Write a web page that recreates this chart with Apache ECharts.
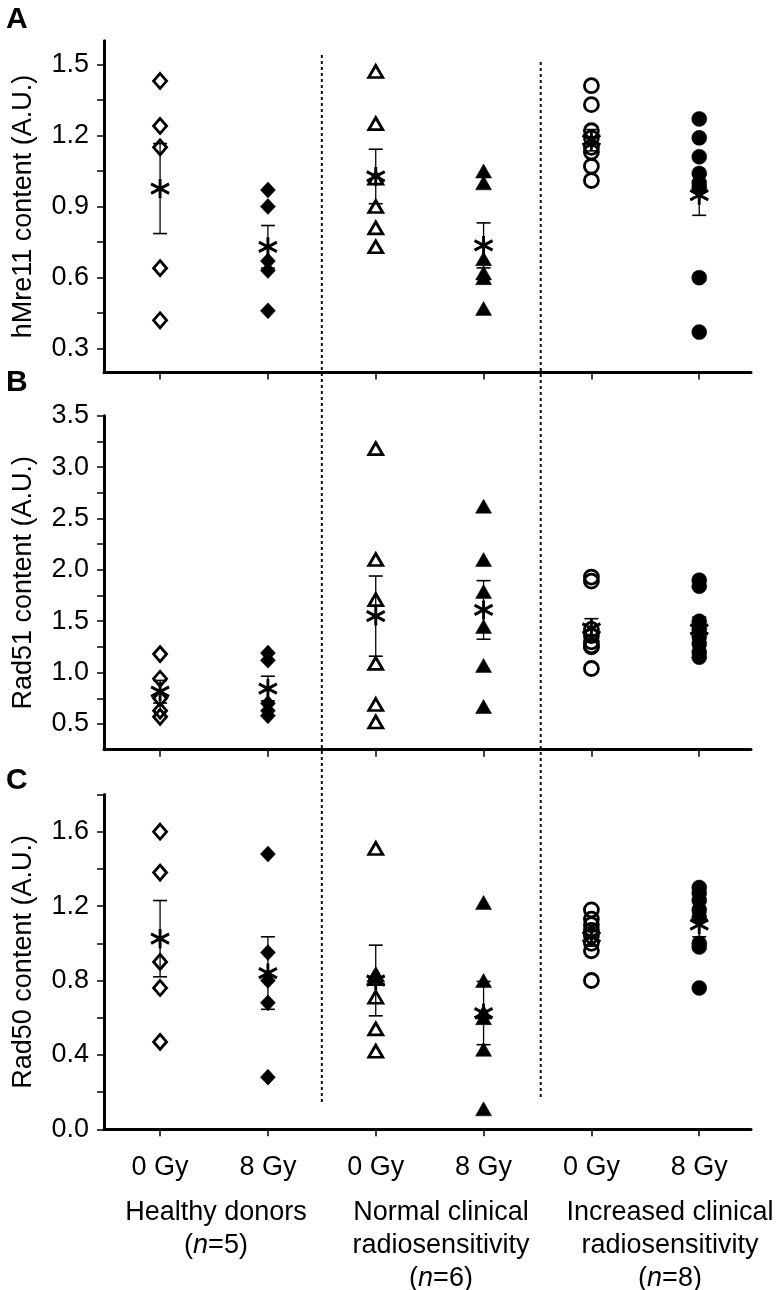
<!DOCTYPE html>
<html><head><meta charset="utf-8">
<style>html,body{margin:0;padding:0;background:#fff}#chart{width:779px;height:1290px}</style>
<script src="https://cdn.jsdelivr.net/npm/echarts@6.0.0/dist/echarts.min.js"></script>
</head><body><div id="chart"></div>
<script>
// ---------- DATA ----------
const doseLabels = ['0 Gy', '8 Gy', '0 Gy', '8 Gy', '0 Gy', '8 Gy'];
const groupNames = ['Healthy donors', 'Normal clinical\nradiosensitivity', 'Increased clinical\nradiosensitivity'];
const groupSizes = [5, 6, 8];

// Panel A: hMre11
const mre11Points = [
  [1.43, 1.24, 1.15, 0.64, 0.42],
  [0.97, 0.90, 0.67, 0.63, 0.46],
  [1.47, 1.25, 1.02, 0.90, 0.81, 0.73],
  [1.05, 1.00, 0.68, 0.62, 0.60, 0.47],
  [1.41, 1.33, 1.22, 1.19, 1.15, 1.13, 1.07, 1.01],
  [1.27, 1.19, 1.11, 1.04, 1.00, 0.98, 0.60, 0.37]
];
const mre11Mean = [0.976, 0.73, 1.027, 0.736, 1.18, 0.948];
const mre11Sem = [0.19, 0.09, 0.115, 0.095, 0.045, 0.085];
const mre11Ticks = [0.3, 0.6, 0.9, 1.2, 1.5];

// Panel B: Rad51
const rad51Points = [
  [1.18, 0.94, 0.75, 0.63, 0.57],
  [1.19, 1.12, 0.70, 0.63, 0.58],
  [3.18, 2.10, 1.71, 1.09, 0.69, 0.52],
  [2.62, 2.10, 1.79, 1.45, 1.07, 0.67],
  [1.93, 1.89, 1.42, 1.36, 1.30, 1.26, 1.25, 1.04],
  [1.90, 1.84, 1.50, 1.42, 1.35, 1.28, 1.20, 1.15]
];
const rad51Mean = [0.814, 0.845, 1.55, 1.61, 1.43, 1.42];
const rad51Sem = [0.11, 0.12, 0.39, 0.285, 0.095, 0.12];
const rad51Ticks = [0.5, 1.0, 1.5, 2.0, 2.5, 3.0, 3.5];

// Panel C: Rad50
const rad50Points = [
  [1.60, 1.38, 0.90, 0.76, 0.47],
  [1.48, 0.95, 0.80, 0.68, 0.28],
  [1.51, 0.83, 0.81, 0.71, 0.54, 0.42],
  [1.22, 0.80, 0.63, 0.60, 0.43, 0.11],
  [1.18, 1.13, 1.10, 1.07, 1.04, 1.00, 0.96, 0.80],
  [1.30, 1.27, 1.23, 1.18, 1.14, 1.00, 0.98, 0.76]
];
const rad50Mean = [1.025, 0.84, 0.80, 0.625, 1.035, 1.10];
const rad50Sem = [0.205, 0.195, 0.19, 0.17, 0.05, 0.065];
const rad50Ticks = [0.0, 0.4, 0.8, 1.2, 1.6];

// ---------- STYLE / LAYOUT ----------
const FONT = "'Liberation Sans', Arial, Helvetica, sans-serif";
const FS = 27;
const shapes = ['diamond', 'diamond', 'triangle', 'triangle', 'circle', 'circle'];
const filled = [false, true, false, true, false, true];
const symSizes = [[13, 15], [15, 16], [14, 12], [16, 14], [14, 14], [15, 15]];
const asterisk = 'path://M10 0 L10 20 M1.34 5 L18.66 15 M1.34 15 L18.66 5';
const dividerX = [1.5, 3.53];

const panels = [
  {letter: 'A', name: 'hMre11 content (A.U.)', pts: mre11Points, mean: mre11Mean, sem: mre11Sem, ticks: mre11Ticks, min: 0.2, max: 1.6, top: 40.7, height: 331.7, fmt: v => v.toFixed(1), lt: 5},
  {letter: 'B', name: 'Rad51 content (A.U.)', pts: rad51Points, mean: rad51Mean, sem: rad51Sem, ticks: rad51Ticks, min: 0.25, max: 3.5, top: 415.7, height: 334, fmt: v => v.toFixed(1), lt: 368},
  {letter: 'C', name: 'Rad50 content (A.U.)', pts: rad50Points, mean: rad50Mean, sem: rad50Sem, ticks: rad50Ticks, min: 0, max: 1.8, top: 794.5, height: 334.8, fmt: v => v.toFixed(1), lt: 766}
];

function minorTicks(t, max) {
  const out = t.slice();
  const step = t[1] - t[0];
  for (let i = 0; i < t.length - 1; i++) out.push(+((t[i] + t[i + 1]) / 2).toFixed(4));
  const ext = +(t[t.length - 1] + step / 2).toFixed(4);
  if (ext <= max + 1e-9) out.push(ext);
  return out.sort((a, b) => a - b);
}

const grid = [], xAxis = [], yAxis = [], series = [];
panels.forEach((p, gi) => {
  grid.push({left: 104, width: 647, top: p.top, height: p.height, containLabel: false});
  xAxis.push({
    type: 'value', gridIndex: gi, min: -0.52, max: 5.48,
    splitLine: {show: false},
    axisLine: {onZero: false, lineStyle: {color: '#000', width: 3}},
    axisTick: {customValues: [0, 1, 2, 3, 4, 5], length: 7, lineStyle: {color: '#000', width: 1.5}},
    axisLabel: gi === 2 ? {
      show: true, customValues: [0, 1, 2, 3, 4, 5], margin: 25,
      formatter: v => doseLabels[Math.round(v)], color: '#000', fontSize: FS, fontFamily: FONT
    } : {show: false}
  });
  yAxis.push({
    type: 'value', gridIndex: gi, min: p.min, max: p.max,
    name: p.name, nameLocation: 'middle', nameGap: 67,
    nameTextStyle: {color: '#000', fontSize: FS, fontFamily: FONT},
    splitLine: {show: false},
    axisLine: {onZero: false, lineStyle: {color: '#000', width: 3}},
    axisTick: {customValues: minorTicks(p.ticks, p.max), length: 7, lineStyle: {color: '#000', width: 1.5}},
    axisLabel: {customValues: p.ticks, formatter: p.fmt, margin: 15, color: '#000', fontSize: FS, fontFamily: FONT}
  });
  p.pts.forEach((vals, ci) => {
    series.push({
      type: 'scatter', xAxisIndex: gi, yAxisIndex: gi, z: 3,
      symbol: shapes[ci], symbolSize: symSizes[ci],
      itemStyle: filled[ci]
        ? {color: '#000', borderColor: '#000', borderWidth: 0.5, opacity: 1}
        : {color: 'rgba(255,255,255,0)', borderColor: '#000', borderWidth: 2.8, opacity: 1},
      emphasis: {disabled: true},
      data: vals.map(v => [ci, v])
    });
  });
  series.push({
    type: 'custom', xAxisIndex: gi, yAxisIndex: gi, z: 4,
    data: p.mean.map((m, i) => [i, m - p.sem[i], m + p.sem[i]]),
    renderItem(params, api) {
      const x = api.value(0);
      const lo = api.coord([x, api.value(1)]);
      const hi = api.coord([x, api.value(2)]);
      const hw = 7;
      const st = {stroke: '#000', lineWidth: 1.3};
      return {type: 'group', children: [
        {type: 'line', shape: {x1: lo[0], y1: lo[1], x2: hi[0], y2: hi[1]}, style: st},
        {type: 'line', shape: {x1: lo[0] - hw, y1: lo[1], x2: lo[0] + hw, y2: lo[1]}, style: {stroke: '#000', lineWidth: 1.6}},
        {type: 'line', shape: {x1: hi[0] - hw, y1: hi[1], x2: hi[0] + hw, y2: hi[1]}, style: {stroke: '#000', lineWidth: 1.6}}
      ]};
    }
  });
  series.push({
    type: 'scatter', xAxisIndex: gi, yAxisIndex: gi, z: 5,
    symbol: asterisk, symbolSize: [18, 19],
    itemStyle: {color: 'rgba(0,0,0,0)', borderColor: '#000', borderWidth: 3, opacity: 1},
    emphasis: {disabled: true},
    data: p.mean.map((m, i) => [i, m])
  });
});

const chart = echarts.init(document.getElementById('chart'), null, {renderer: 'canvas'});
chart.setOption({animation: false, backgroundColor: '#fff', grid, xAxis, yAxis, series});

// ---------- decorations computed through the axes ----------
const graphic = [];
panels.forEach(p => {
  graphic.push({type: 'text', left: 6, top: p.lt, style: {text: p.letter, fill: '#000', font: `900 30px 'Liberation Sans', Arial, sans-serif`}});
});
dividerX.forEach((dx, k) => {
  const top = chart.convertToPixel({xAxisIndex: 0, yAxisIndex: 0}, [dx, k === 0 ? 1.54 : 1.51]);
  const bot = chart.convertToPixel({xAxisIndex: 2, yAxisIndex: 2}, [dx, k === 0 ? 0.14 : 0.17]);
  graphic.push({type: 'line', shape: {x1: top[0], y1: top[1], x2: bot[0], y2: bot[1]},
    style: {stroke: '#111', lineWidth: 2, lineDash: [3, 3]}, z: 10});
});
const groupX = [216, 441, 670];
groupNames.forEach((g, k) => {
  const lines = g.split('\n').map(s => `{t|${s}}`);
  lines.push(`{t|(}{i|n}{t|=${groupSizes[k]})}`);
  graphic.push({type: 'text', x: groupX[k], y: 1196, style: {
    text: lines.join('\n'), textAlign: 'center', textVerticalAlign: 'top', align: 'center', verticalAlign: 'top',
    rich: {t: {fontSize: FS, fontFamily: FONT, fill: '#000', color: '#000', lineHeight: 33},
           i: {fontSize: FS, fontFamily: FONT, fontStyle: 'italic', fill: '#000', color: '#000', lineHeight: 33}}
  }});
});
chart.setOption({graphic});
</script></body></html>
